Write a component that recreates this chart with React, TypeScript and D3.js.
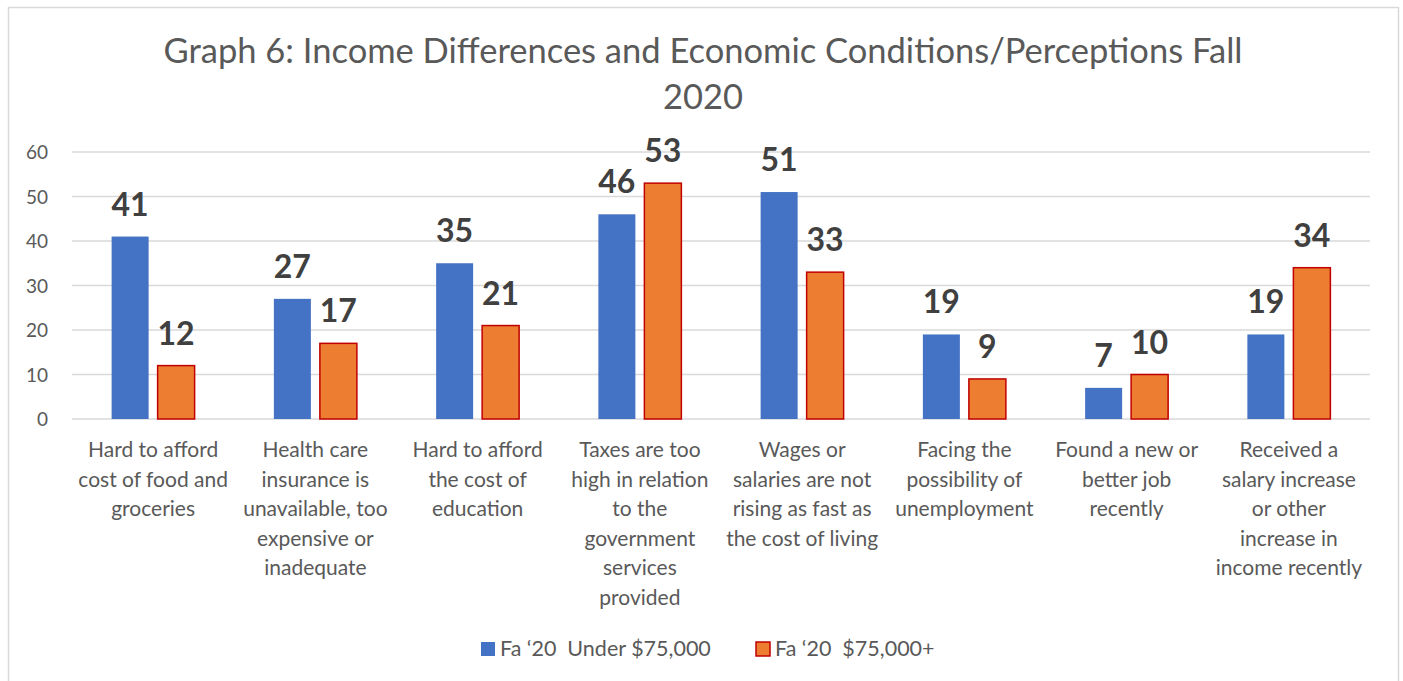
import React from "react";
import * as d3 from "d3";

const categories: string[][] = [
  ["Hard to afford", "cost of food and", "groceries"],
  ["Health care", "insurance is", "unavailable, too", "expensive or", "inadequate"],
  ["Hard to afford", "the cost of", "education"],
  ["Taxes are too", "high in relation", "to the", "government", "services", "provided"],
  ["Wages or", "salaries are not", "rising as fast as", "the cost of living"],
  ["Facing the", "possibility of", "unemployment"],
  ["Found a new or", "better job", "recently"],
  ["Received a", "salary increase", "or other", "increase in", "income recently"],
];
const under75: number[] = [41, 27, 35, 46, 51, 19, 7, 19];
const over75: number[] = [12, 17, 21, 53, 33, 9, 10, 34];
const seriesNames: string[] = ["Fa \u201820  Under $75,000", "Fa \u201820  $75,000+"];
const yTicks: number[] = [0, 10, 20, 30, 40, 50, 60];
const titleLines: string[] = ["Graph 6: Income Differences and Economic Conditions/Perceptions Fall", "2020"];

const W = 1403;
const H = 681;
const FONT = "Lato, 'Open Sans', sans-serif";

export default function App() {
  const left = 72, right = 1370, top = 152, bottom = 419;
  const x = d3.scaleBand<number>().domain(d3.range(categories.length)).range([left, right]);
  const y = d3.scaleLinear().domain([0, 60]).range([bottom, top]);
  const barW = 37;
  const gap = 9;
  const series = [
    { values: under75, fill: "#4472C4", stroke: "none" },
    { values: over75, fill: "#ED7D31", stroke: "#C00000" },
  ];
  return (
    <div style={{ position: "absolute", left: 0, top: 0 }}>
      <svg width={W} height={H} style={{ display: "block", background: "#fff" }}>
        <rect x={8.5} y={7.5} width={1390} height={700} fill="#fff" stroke="#D9D9D9" strokeWidth={1.5} />
        {titleLines.map((t, i) => (
          <text key={i} x={703} y={63 + i * 46} textAnchor="middle" fontFamily={FONT} fontSize={34.5} fill="#595959">
            {t}
          </text>
        ))}
        {yTicks.map((t) => (
          <g key={t}>
            <line x1={left} x2={right} y1={y(t)} y2={y(t)} stroke="#D9D9D9" strokeWidth={1.5} />
            <text x={48} y={y(t) + 7} textAnchor="end" fontFamily={FONT} fontSize={19} fill="#595959">
              {t}
            </text>
          </g>
        ))}
        {categories.map((_, i) => {
          const cx = (x(i) as number) + x.bandwidth() / 2;
          return (
            <g key={i}>
              {series.map((s, j) => {
                const bx = j === 0 ? cx - gap / 2 - barW : cx + gap / 2;
                const v = s.values[i];
                return (
                  <g key={j}>
                    <rect
                      x={bx}
                      y={y(v)}
                      width={barW}
                      height={y(0) - y(v)}
                      fill={s.fill}
                      stroke={s.stroke}
                      strokeWidth={s.stroke === "none" ? 0 : 1.5}
                    />
                    <text
                      x={bx + barW / 2}
                      y={y(v) - 21}
                      textAnchor="middle"
                      fontFamily={FONT}
                      fontWeight="bold"
                      fontSize={32}
                      fill="#404040"
                    >
                      {v}
                    </text>
                  </g>
                );
              })}
              {categories[i].map((line, k) => (
                <text key={k} x={cx} y={457 + k * 29.5} textAnchor="middle" fontFamily={FONT} fontSize={21} fill="#595959">
                  {line}
                </text>
              ))}
            </g>
          );
        })}
        {series.map((s, j) => {
          const lx = j === 0 ? 481 : 756;
          return (
            <g key={j}>
              <rect x={lx} y={642} width={14} height={14} fill={s.fill} stroke={s.stroke} strokeWidth={s.stroke === "none" ? 0 : 1.5} />
              <text x={lx + 19} y={656} fontFamily={FONT} fontSize={21.5} fill="#595959" style={{ whiteSpace: "pre" }}>
                {seriesNames[j]}
              </text>
            </g>
          );
        })}
      </svg>
    </div>
  );
}
